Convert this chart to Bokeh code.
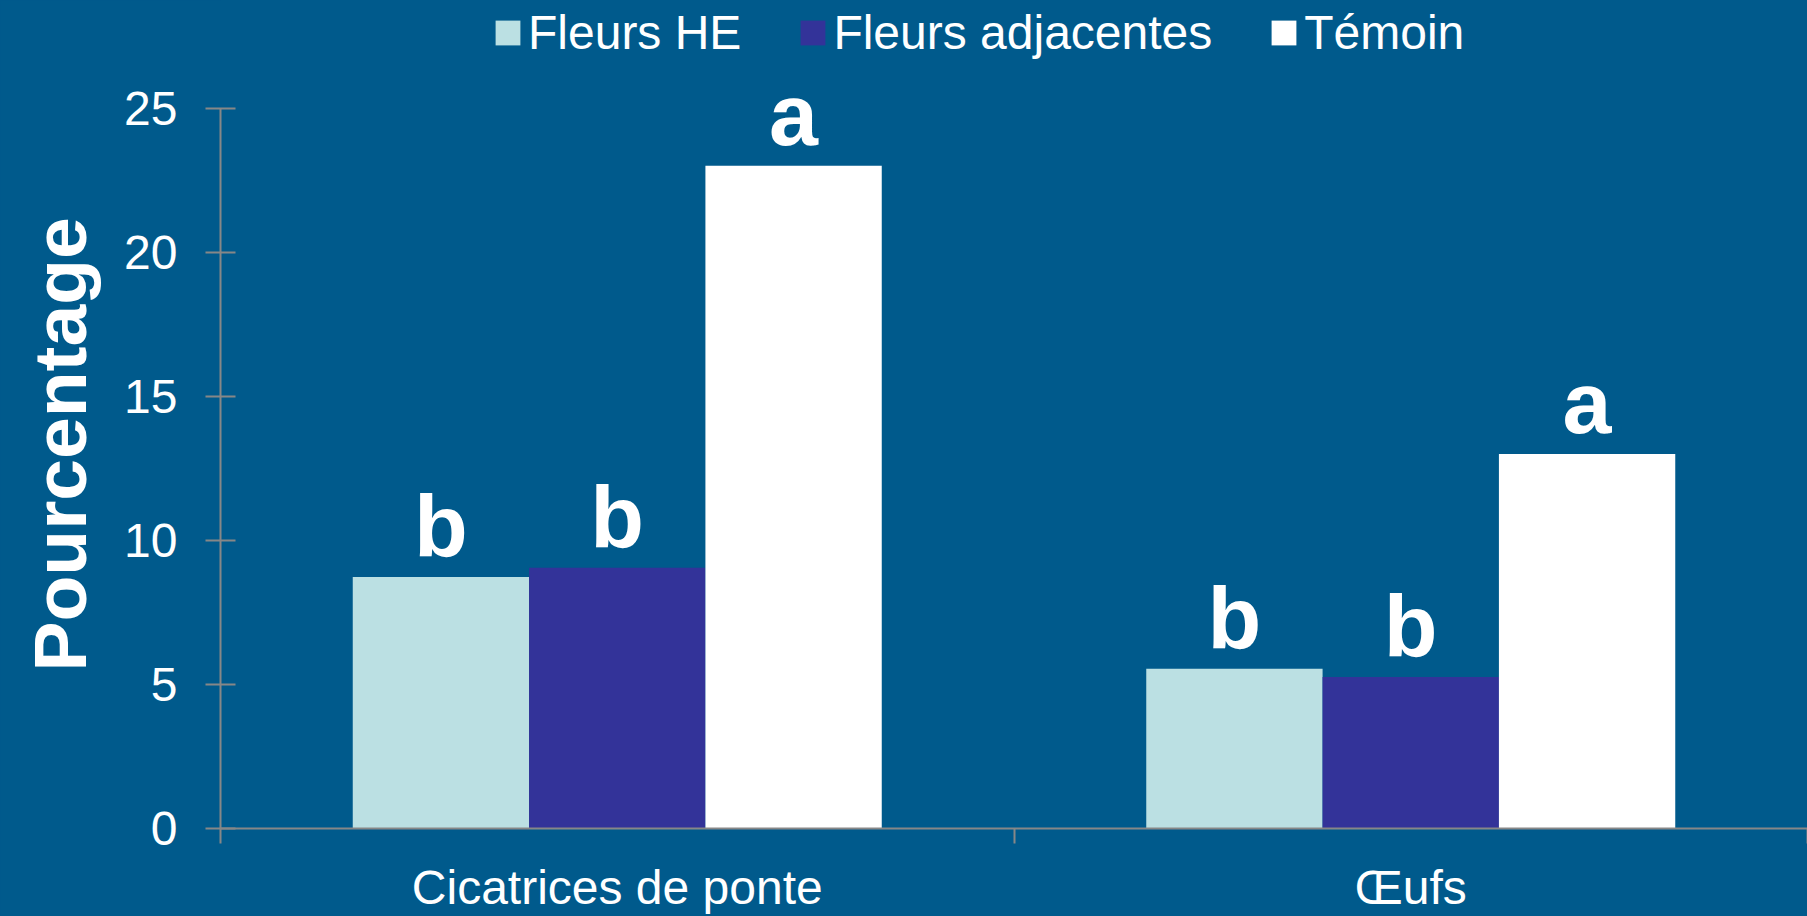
from bokeh.plotting import figure
from bokeh.models import (ColumnDataSource, Range1d, FixedTicker, Legend, LegendItem, Title)
from bokeh.core.properties import value
from bokeh.embed import file_html
from bokeh.resources import INLINE

# ---- data ----
categories = ["Cicatrices de ponte", "Œufs"]
series_names = ["Fleurs HE", "Fleurs adjacentes", "Témoin"]
fleurs_he = [8.73, 5.54]
fleurs_adj = [9.05, 5.26]
temoin = [23.0, 13.0]
letters_he = ["b", "b"]
letters_adj = ["b", "b"]
letters_temoin = ["a", "a"]
y_ticks = [0, 5, 10, 15, 20, 25]
y_title = "Pourcentage"

BG = "#005A8C"
colors = ["#BBE0E3", "#333399", "#FFFFFF"]
FONT = "Liberation Sans"

H, W = 916, 1807
BOTTOM, LEFT = 85, 220
FRAME_H = H - BOTTOM
Y_END = 25 * FRAME_H / (FRAME_H - 108)

p = figure(width=W, height=H, output_backend="svg", toolbar_location=None,
           x_range=Range1d(0, len(categories)), y_range=Range1d(0, Y_END),
           min_border_left=LEFT, min_border_right=0, min_border_top=0,
           min_border_bottom=BOTTOM)
p.styles = {"background-color": BG}
p.background_fill_color = BG
p.border_fill_color = BG
p.outline_line_color = None
p.xgrid.visible = False
p.ygrid.visible = False

bar_w = 2.0 / 9.0
offsets = [-bar_w, 0.0, bar_w]
series = [fleurs_he, fleurs_adj, temoin]
letters = [letters_he, letters_adj, letters_temoin]

items = []
for name, vals, lets, off, col in zip(series_names, series, letters, offsets, colors):
    xs = [i + 0.5 + off for i in range(len(categories))]
    src = ColumnDataSource(dict(x=xs, top=vals, lab=lets))
    r = p.vbar(x="x", top="top", width=bar_w, source=src, fill_color=col,
               line_color=None)
    items.append(LegendItem(label=name, renderers=[r]))
    p.text(x="x", y="top", text="lab", source=src, text_align="center",
           text_baseline="alphabetic", y_offset=-51, text_color="white",
           text_font=value(FONT), text_font_style="bold",
           text_font_size="88px")

legend = Legend(items=items, orientation="horizontal",
                location=(272, FRAME_H - 63),
                glyph_width=31, glyph_height=31, label_standoff=5, spacing=56,
                padding=0, margin=0, border_line_color=None,
                background_fill_alpha=0, label_text_color="white",
                label_text_font=FONT, label_text_font_size="48px",
                label_height=25)
p.add_layout(legend, "center")

AX = "#878787"
# y axis
ya = p.yaxis[0]
ya.ticker = FixedTicker(ticks=y_ticks)
ya.bounds = (0, 25)
ya.axis_line_color = AX
ya.axis_line_width = 2
ya.major_tick_line_color = AX
ya.major_tick_line_width = 2
ya.major_tick_out = 15
ya.major_tick_in = 15
ya.minor_tick_line_color = None
ya.major_label_standoff = 28
ya.major_label_text_color = "white"
ya.major_label_text_font = FONT
ya.major_label_text_font_size = "48px"

ytitle = Title(text=y_title, align="left", offset=157, vertical_align="top",
               standoff=35, text_color="white", text_font=FONT,
               text_font_style="bold", text_font_size="75px")
p.add_layout(ytitle, "left")

# x axis
xa = p.xaxis[0]
xa.ticker = FixedTicker(ticks=[i + 0.5 for i in range(len(categories))],
                        minor_ticks=list(range(len(categories) + 1)))
xa.major_label_overrides = {i + 0.5: c for i, c in enumerate(categories)}
xa.axis_line_color = AX
xa.axis_line_width = 2
xa.major_tick_line_color = None
xa.major_tick_out = 0
xa.major_tick_in = 0
xa.minor_tick_line_color = AX
xa.minor_tick_line_width = 2
xa.minor_tick_out = 15
xa.minor_tick_in = 0
xa.major_label_standoff = 17
xa.major_label_text_color = "white"
xa.major_label_text_font = FONT
xa.major_label_text_font_size = "48px"

open("out.html", "w").write(file_html(p, INLINE))
